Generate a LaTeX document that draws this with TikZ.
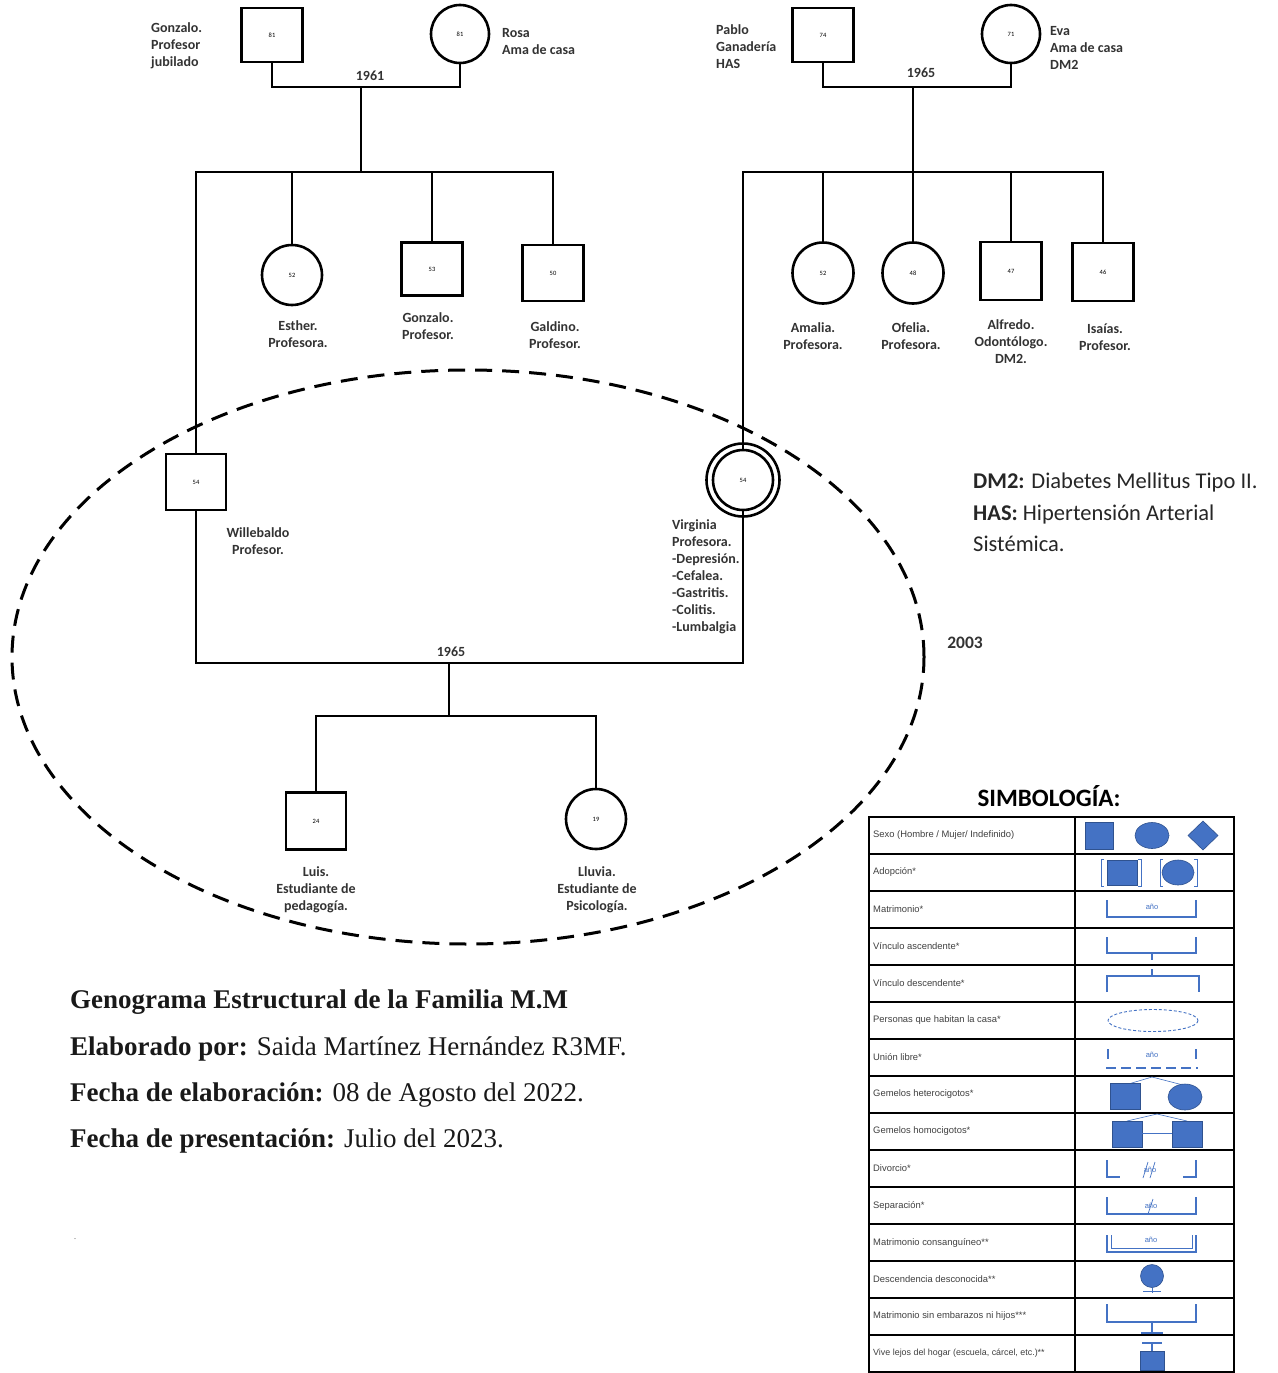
\documentclass[tikz,border=0pt]{standalone}
\usepackage{fontspec}
\setmainfont{Carlito}
\newfontfamily\seriffont{Liberation Serif}
\newfontfamily\arialfont{Liberation Sans}
\usetikzlibrary{shapes.geometric}
\definecolor{symblue}{RGB}{68,114,196}
\definecolor{symedge}{RGB}{47,82,143}
\tikzset{
  person/.style={draw, line width=2.6pt, inner sep=0pt, font=\fontsize{6.5}{7}\selectfont},
  male/.style={person, rectangle, minimum width=61pt, minimum height=54pt},
  female/.style={person, circle, minimum size=58pt},
  gline/.style={line width=2.6pt},
  lbl/.style={font=\bfseries\fontsize{14}{17}\selectfont, align=center, inner sep=0pt, text=black!80},
  lbll/.style={lbl, align=left, anchor=west},
  symf/.style={fill=symblue, draw=symedge, line width=0.6pt},
  syml/.style={draw=symblue, line width=1.1pt},
  anio/.style={font=\arialfont\fontsize{7.5}{8}\selectfont, text=symblue, inner sep=0pt},
  tabtxt/.style={font=\arialfont\fontsize{9.4}{10}\selectfont, anchor=west, inner sep=0pt, text=black!75},
  tabline/.style={line width=1.8pt},
  leg/.style={font=\fontsize{22.5}{26}\selectfont, anchor=base west, inner sep=0pt, text=black!85},
  foot/.style={font=\seriffont\fontsize{27}{30}\selectfont, anchor=base west, inner sep=0pt, text=black!90}
}
\begin{document}
\begin{tikzpicture}[x=1pt,y=-1pt]
\fill[white] (0,0) rectangle (1277,1373);
\useasboundingbox (0,0) rectangle (1277,1373);

% ---------- grandparents left
\node[male] (gf1) at (272,35) {81};
\node[female] (gm1) at (460,34) {81};
\node[lbll] (gf1l) at (151,45.5) {Gonzalo.\\Profesor\\jubilado};
\node[lbll] (gm1l) at (502,42) {Rosa\\Ama de casa};
\coordinate (m1) at (361,87);
\coordinate (s1) at (361,172);
\node[lbl] (y1) at (370,76) {1961};

% ---------- grandparents right
\node[male] (pab) at (823,35) {74};
\node[female] (eva) at (1011,34) {71};
\node[lbll] (pabl) at (716,47) {Pablo\\Ganadería\\HAS};
\node[lbll] (eval) at (1050,48) {Eva\\Ama de casa\\DM2};
\coordinate (m2) at (913,87);
\coordinate (s2) at (913,172);
\node[lbl] (y2) at (921,73) {1965};

% ---------- siblings left
\node[female, minimum size=60pt] (est) at (292,275) {52};
\node[male, minimum height=53pt] (gon) at (432,269) {53};
\node[male, minimum height=56pt] (gal) at (553,273) {50};
\node[lbl] (estl) at (298,334.5) {Esther.\\Profesora.};
\node[lbl] (gonl) at (428,326.5) {Gonzalo.\\Profesor.};
\node[lbl] (gall) at (555,335.5) {Galdino.\\Profesor.};

% ---------- siblings right
\node[female, minimum size=61pt] (ama) at (823,273) {52};
\node[female, minimum size=61pt] (ofe) at (913,273) {48};
\node[male, minimum height=58pt] (alf) at (1011,271) {47};
\node[male, minimum height=58pt] (isa) at (1103,272) {46};
\node[lbl] (amal) at (813,336.5) {Amalia.\\Profesora.};
\node[lbl] (ofel) at (911,336.5) {Ofelia.\\Profesora.};
\node[lbl] (alfl) at (1011,342) {Alfredo.\\Odontólogo.\\DM2.};
\node[lbl] (isal) at (1105,337.5) {Isaías.\\Profesor.};

% ---------- couple
\node[male, minimum width=60pt, minimum height=56pt] (wil) at (196,482) {54};
\node[female, minimum size=60pt] (vir) at (743,480) {54};
\draw[line width=2.6pt] (vir.center) circle (36.5);
\node[lbl] (will) at (258,541.5) {Willebaldo\\Profesor.};
\node[lbll] (virl) at (672,576.5) {Virginia\\Profesora.\\-Depresión.\\-Cefalea.\\-Gastritis.\\-Colitis.\\-Lumbalgia};
\coordinate (m3) at (449,663);
\coordinate (c3) at (449,716);
\node[lbl] (y3) at (451,652) {1965};

% ---------- children
\node[male, minimum width=60pt, minimum height=57pt] (luis) at (316,821) {24};
\node[female, minimum size=60pt] (llu) at (596,819) {19};
\node[lbl] (luisl) at (316,890) {Luis.\\Estudiante de\\pedagogía.};
\node[lbl] (llul) at (597,890) {Lluvia.\\Estudiante de\\Psicología.};

% ---------- connectors
\draw[gline] (gf1.south) |- (m1) -| (gm1.south);
\draw[gline] (m1) -- (s1);
\draw[gline] (wil.north) |- (s1) -| (gal.north);
\draw[gline] (est.north) -- (est.north |- s1);
\draw[gline] (gon.north) -- (gon.north |- s1);

\draw[gline] (pab.south) |- (m2) -| (eva.south);
\draw[gline] (m2) -- (s2);
\draw[gline] (vir.north) |- (s2) -| (isa.north);
\draw[gline] (ama.north) -- (ama.north |- s2);
\draw[gline] (ofe.north) -- (ofe.north |- s2);
\draw[gline] (alf.north) -- (alf.north |- s2);

\draw[gline] (wil.south) |- (m3) -| (vir.south);
\draw[gline] (m3) -- (c3);
\draw[gline] (luis.north) |- (c3) -| (llu.north);

% ---------- household ellipse
\node[draw, ellipse, line width=3pt, dash pattern=on 17pt off 10pt, minimum width=912pt, minimum height=574pt] (casa) at (468,657) {};
\node[lbl, font=\bfseries\fontsize{17.5}{20}\selectfont] (y4) at (965,643) {2003};

% ---------- abbreviations legend
\node[leg] (dm2) at (973,488) {\textbf{DM2:} Diabetes Mellitus Tipo II.};
\node[leg] (has) at (973,520) {\textbf{HAS:} Hipertensión Arterial};
\node[leg] (has2) at (973,551) {Sistémica.};

% ---------- footer
\node[foot] (tit) at (70,1008) {\textbf{Genograma Estructural de la Familia M.M}};
\node[foot] (ela) at (70,1055) {\textbf{Elaborado por:} Saida Martínez Hernández R3MF.};
\node[foot] (fel) at (70,1101) {\textbf{Fecha de elaboración:} 08 de Agosto del 2022.};
\node[foot] (fpr) at (70,1147) {\textbf{Fecha de presentación:} Julio del 2023.};
\node[font=\seriffont\fontsize{10}{12}\selectfont, text=black!50, inner sep=0pt] (dot) at (75,1239) {.};

% ---------- symbology table
\node[font=\bfseries\fontsize{25}{28}\selectfont, inner sep=0pt] (simb) at (1049,796) {SIMBOLOGÍA:};
\draw[tabline] (869,817) rectangle (1234,1372);
\foreach \i in {1,...,14} \draw[tabline] (869,{817+37*\i}) -- (1234,{817+37*\i});
\draw[tabline] (1075,817) -- (1075,1372);

\node[tabtxt] (t0) at (873,835.5) {Sexo (Hombre / Mujer/ Indefinido)};
\node[tabtxt] (t1) at (873,872.5) {Adopción*};
\node[tabtxt] (t2) at (873,909.5) {Matrimonio*};
\node[tabtxt] (t3) at (873,946.5) {Vínculo ascendente*};
\node[tabtxt] (t4) at (873,983.5) {Vínculo descendente*};
\node[tabtxt] (t5) at (873,1020.5) {Personas que habitan la casa*};
\node[tabtxt] (t6) at (873,1057.5) {Unión libre*};
\node[tabtxt] (t7) at (873,1094.5) {Gemelos heterocigotos*};
\node[tabtxt] (t8) at (873,1131.5) {Gemelos homocigotos*};
\node[tabtxt] (t9) at (873,1168.5) {Divorcio*};
\node[tabtxt] (t10) at (873,1205.5) {Separación*};
\node[tabtxt] (t11) at (873,1242.5) {Matrimonio consanguíneo**};
\node[tabtxt] (t12) at (873,1279.5) {Descendencia desconocida**};
\node[tabtxt] (t13) at (873,1316.5) {Matrimonio sin embarazos ni hijos***};
\node[tabtxt, font=\arialfont\fontsize{8.9}{10}\selectfont] (t14) at (873,1353.5) {Vive lejos del hogar (escuela, cárcel, etc.)**};

% row 0: sex
\draw[symf] (1085,822) rectangle (1113,849);
\draw[symf] (1152,835.5) ellipse [x radius=17, y radius=13];
\draw[symf] (1203,821) -- (1218,835.5) -- (1203,850) -- (1188,835.5) -- cycle;
% row 1: adoption
\draw[symf] (1107,860) rectangle (1137,885);
\draw[syml, line width=0.8pt] (1104,859) -- (1101,859) -- (1101,886) -- (1104,886);
\draw[syml, line width=0.8pt] (1138,859) -- (1141,859) -- (1141,886) -- (1138,886);
\draw[symf] (1178,872.5) ellipse [x radius=16, y radius=12.5];
\draw[syml, line width=0.8pt] (1163,859) -- (1160,859) -- (1160,886) -- (1163,886);
\draw[syml, line width=0.8pt] (1194,859) -- (1197,859) -- (1197,886) -- (1194,886);
% row 2: marriage
\draw[syml] (1107,900) -- (1107,917) -- (1196,917) -- (1196,900);
\node[anio] (a2) at (1152,907) {año};
% row 3: ascending
\draw[syml] (1107,937) -- (1107,953) -- (1196,953) -- (1196,937);
\draw[syml] (1152,953) -- (1152,960);
% row 4: descending
\draw[syml] (1152,969) -- (1152,976);
\draw[syml] (1107,992) -- (1107,976) -- (1199,976) -- (1199,992);
% row 5: household
\draw[syml, line width=0.9pt, dash pattern=on 3pt off 2pt] (1153,1020.5) ellipse [x radius=45, y radius=11];
% row 6: free union
\draw[syml] (1108,1049) -- (1108,1059);
\draw[syml] (1196,1049) -- (1196,1059);
\node[anio] (a6) at (1152,1055) {año};
\draw[syml, dash pattern=on 10pt off 5pt] (1106,1068) -- (1198,1068);
% row 7: heterozygous twins
\draw[syml, line width=0.6pt] (1125,1085) -- (1152,1077) -- (1183,1085);
\draw[symf] (1110,1083) rectangle (1140,1109);
\draw[symf] (1185,1097) ellipse [x radius=17, y radius=13];
% row 8: homozygous twins
\draw[syml, line width=0.6pt] (1127,1121) -- (1157,1114) -- (1187,1121);
\draw[symf] (1112,1121) rectangle (1142,1147);
\draw[symf] (1172,1121) rectangle (1202,1147);
\draw[syml, line width=0.6pt] (1142,1133) -- (1172,1133);
% row 9: divorce
\draw[syml] (1107,1160) -- (1107,1177) -- (1120,1177);
\draw[syml] (1183,1177) -- (1196,1177) -- (1196,1160);
\node[anio] (a9) at (1150,1170) {año};
\draw[syml, line width=0.7pt] (1143,1178) -- (1148,1162);
\draw[syml, line width=0.7pt] (1150,1178) -- (1155,1162);
% row 10: separation
\draw[syml] (1107,1197) -- (1107,1214) -- (1196,1214) -- (1196,1197);
\node[anio] (a10) at (1151,1206) {año};
\draw[syml, line width=0.7pt] (1148,1214) -- (1153,1199);
% row 11: consanguineous
\draw[syml] (1107,1235) -- (1107,1252) -- (1196,1252) -- (1196,1235);
\draw[syml, line width=0.8pt] (1111,1235) -- (1111,1248) -- (1192,1248) -- (1192,1235);
\node[anio] (a11) at (1151,1240) {año};
% row 12: unknown descent
\draw[symf] (1152,1276) circle (11.5);
\draw[syml, line width=0.8pt] (1143,1291) -- (1161,1291);
\draw[syml, line width=0.8pt] (1152,1288) -- (1152,1293);
% row 13: marriage without children
\draw[syml] (1107,1304) -- (1107,1322) -- (1196,1322) -- (1196,1304);
\draw[syml] (1152,1322) -- (1152,1333);
\draw[syml] (1141,1333) -- (1163,1333);
% row 14: lives away
\draw[syml] (1142,1343) -- (1162,1343);
\draw[syml] (1152,1343) -- (1152,1351);
\draw[symf] (1140,1351) rectangle (1164,1370);
\end{tikzpicture}
\end{document}
